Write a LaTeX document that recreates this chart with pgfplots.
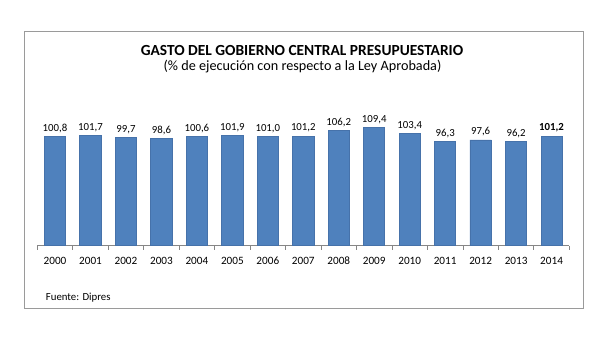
\documentclass[border=0pt]{standalone}
\usepackage{fontspec}
\setmainfont{Carlito}
\usepackage{pgfplots}
\pgfplotsset{compat=1.18}
\definecolor{barfill}{HTML}{4F81BD}
\definecolor{barline}{HTML}{4672AA}
\definecolor{axisgray}{HTML}{868686}
\definecolor{framegray}{HTML}{9A9A9A}
\begin{document}
\begin{tikzpicture}
\path (0bp,0bp) rectangle (608bp,340bp);
\draw[framegray, line width=1bp] (24.3bp,31.7bp) rectangle (583.3bp,308.3bp);
\node[font=\fontsize{15.4bp}{18bp}\selectfont\bfseries] at (302bp,289.5bp) {GASTO DEL GOBIERNO CENTRAL PRESUPUESTARIO};
\node[font=\fontsize{14.2bp}{17bp}\selectfont] at (302.5bp,273.5bp) {(\% de ejecución con respecto a la Ley Aprobada)};
\node[font=\fontsize{10.8bp}{12bp}\selectfont, anchor=west, inner sep=0pt] at (45.7bp,42bp) {Fuente: Dipres};
\begin{axis}[
  at={(37.3bp,94.3bp)}, anchor=south west,
  scale only axis, width=532bp, height=130bp,
  xmin=-0.5, xmax=14.5, ymin=0, ymax=120,
  axis x line*=bottom, axis y line=none,
  axis line style={axisgray, line width=0.8bp},
  xtick={0,...,14},
  xticklabels={2000,2001,2002,2003,2004,2005,2006,2007,2008,2009,2010,2011,2012,2013,2014},
  major tick length=0pt,
  minor xtick={-0.5,0.5,...,14.5},
  minor tick length=4bp,
  tick align=outside,
  minor tick style={axisgray, line width=0.8bp},
  xticklabel style={font=\fontsize{11.2bp}{13bp}\selectfont, yshift=-8bp},
  ybar, bar width=21.3bp, bar shift=0pt,
  nodes near coords,
  /pgf/number format/fixed,
  /pgf/number format/fixed zerofill,
  /pgf/number format/precision=1,
  /pgf/number format/use comma,
  /pgf/number format/assume math mode=true,
  clip=false,
]
\addplot[fill=barfill, draw=barline, line width=0.8bp, nodes near coords style={font=\fontsize{10.8bp}{13bp}\selectfont}] coordinates {
 (0,100.8) (1,101.7) (2,99.7) (3,98.6) (4,100.6) (5,101.9) (6,101.0)
 (7,101.2) (8,106.2) (9,109.4) (10,103.4) (11,96.3) (12,97.6) (13,96.2)
};
\addplot[fill=barfill, draw=barline, line width=0.8bp, nodes near coords style={font=\fontsize{10.8bp}{13bp}\selectfont\bfseries}] coordinates {
 (14,101.2)
};
\end{axis}
\end{tikzpicture}
\end{document}
